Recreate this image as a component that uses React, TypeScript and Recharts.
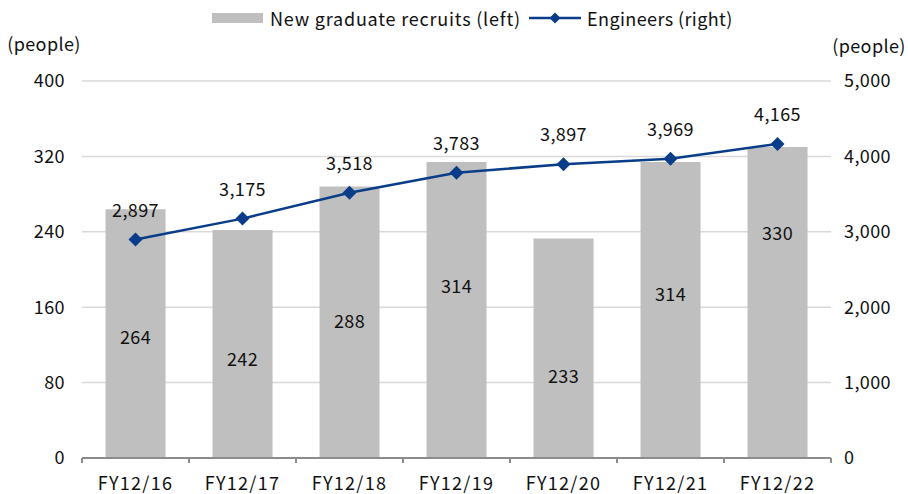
import React from 'react';
import { ComposedChart, Bar, Line, XAxis, YAxis, CartesianGrid, Legend, LabelList } from 'recharts';

const categories = ['FY12/16', 'FY12/17', 'FY12/18', 'FY12/19', 'FY12/20', 'FY12/21', 'FY12/22'];
const newGraduates = [264, 242, 288, 314, 233, 314, 330];
const engineers = [2897, 3175, 3518, 3783, 3897, 3969, 4165];
const leftTicks = [0, 80, 160, 240, 320, 400];
const rightTicks = [0, 1000, 2000, 3000, 4000, 5000];
const barLabel = 'New graduate recruits (left)';
const lineLabel = 'Engineers (right)';
const unitLabel = '(people)';

// label nudges (pixels) relative to the bar's middle, as placed in the reference
const BAR_LABEL_DY = [2, 14, -2, -25, 27, -17, -70];

const FONT = '"Noto Sans CJK JP", "Noto Sans", sans-serif';
const FS = 18;
const BAR_COLOR = '#BFBFBF';
const LINE_COLOR = '#0A3D89';
const AXIS_COLOR = '#8C8C8C';
const GRID_COLOR = '#D9D9D9';
const TEXT_COLOR = '#111111';

const data = categories.map((c, i) => ({ name: c, grads: newGraduates[i], eng: engineers[i] }));

const fmt = (v: number) => v.toLocaleString('en-US');

const Diamond = (props: any) => {
  const { cx, cy } = props;
  if (cx == null || cy == null) return null;
  const r = 7;
  return <path d={`M${cx},${cy - r}L${cx + r},${cy}L${cx},${cy + r}L${cx - r},${cy}Z`} fill={LINE_COLOR} />;
};

const XTick = (props: any) => {
  const { x, y, payload, index } = props;
  const half = payload && payload.offset ? payload.offset : 53.5;
  return (
    <g>
      <line x1={x - half} x2={x - half} y1={y} y2={y + 5} stroke={AXIS_COLOR} strokeWidth={2} />
      {index === categories.length - 1 && (
        <line x1={x + half} x2={x + half} y1={y} y2={y + 5} stroke={AXIS_COLOR} strokeWidth={2} />
      )}
      <text x={x} y={y + 24} textAnchor="middle" dominantBaseline="central" fontFamily={FONT} fontSize={FS} letterSpacing={1.3} fill={TEXT_COLOR}>
        {payload.value}
      </text>
    </g>
  );
};

const BarValueLabel = (props: any) => {
  const { x, y, width, height, value, index } = props;
  const dy = BAR_LABEL_DY[index] ?? 0;
  return (
    <text x={x + width / 2} y={y + height / 2 + dy} textAnchor="middle" dominantBaseline="central" fontFamily={FONT} fontSize={FS} letterSpacing={0.4} fill={TEXT_COLOR}>
      {value}
    </text>
  );
};

const LineValueLabel = (props: any) => {
  const { x, y, value } = props;
  return (
    <text x={x} y={y - 31} textAnchor="middle" dominantBaseline="central" fontFamily={FONT} fontSize={FS} letterSpacing={0.4} fill={TEXT_COLOR}>
      {fmt(value)}
    </text>
  );
};

const LegendContent = () => (
  <svg width={908} height={36} style={{ display: 'block' }}>
    <rect x={212} y={13} width={51} height={10} fill={BAR_COLOR} />
    <text x={270} y={18} dominantBaseline="central" fontFamily={FONT} fontSize={FS} letterSpacing={0.8} fill={TEXT_COLOR}>{barLabel}</text>
    <line x1={529} x2={581} y1={18} y2={18} stroke={LINE_COLOR} strokeWidth={2.5} />
    <path d="M555,12.5L560.5,18L555,23.5L549.5,18Z" fill={LINE_COLOR} />
    <text x={587} y={18} dominantBaseline="central" fontFamily={FONT} fontSize={FS} letterSpacing={0.4} fill={TEXT_COLOR}>{lineLabel}</text>
  </svg>
);

const LeftUnit = (props: any) => {
  const vb = props.viewBox || {};
  return (
    <text x={44} y={(vb.y ?? 81) - 38} textAnchor="middle" dominantBaseline="central" fontFamily={FONT} fontSize={FS} letterSpacing={0.4} fill={TEXT_COLOR}>
      {unitLabel}
    </text>
  );
};

const RightUnit = (props: any) => {
  const vb = props.viewBox || {};
  return (
    <text x={869} y={(vb.y ?? 81) - 36} textAnchor="middle" dominantBaseline="central" fontFamily={FONT} fontSize={FS} letterSpacing={0.4} fill={TEXT_COLOR}>
      {unitLabel}
    </text>
  );
};

export default function App() {
  return (
    <div style={{ position: 'absolute', left: 0, top: 0, width: 908, height: 494, background: '#fff', fontFamily: FONT }}>
      <ComposedChart width={908} height={494} data={data} margin={{ top: 45, right: 0, bottom: 0, left: 0 }} barCategoryGap="22%">
        <Legend verticalAlign="top" height={36} content={LegendContent} wrapperStyle={{ left: 0, top: 0, width: 908, height: 36 }} />
        <CartesianGrid yAxisId="left" vertical={false} stroke={GRID_COLOR} strokeWidth={1.5} />
        <XAxis
          dataKey="name"
          height={36}
          interval={0}
          tickLine={false}
          tickSize={0}
          tickMargin={0}
          axisLine={{ stroke: AXIS_COLOR, strokeWidth: 2 }}
          tick={<XTick />}
        />
        <YAxis
          yAxisId="left"
          orientation="left"
          width={82}
          domain={[0, 400]}
          ticks={leftTicks}
          tickLine={false}
          axisLine={false}
          tickSize={0}
          tickMargin={17}
          tick={{ fontFamily: FONT, fontSize: FS, fill: TEXT_COLOR, letterSpacing: 0.4 }}
          label={<LeftUnit />}
        />
        <YAxis
          yAxisId="right"
          orientation="right"
          width={77}
          domain={[0, 5000]}
          ticks={rightTicks}
          tickLine={false}
          axisLine={false}
          tickSize={0}
          tickMargin={13}
          tickFormatter={fmt}
          tick={{ fontFamily: FONT, fontSize: FS, fill: TEXT_COLOR, letterSpacing: 0.4 }}
          label={<RightUnit />}
        />
        <Bar yAxisId="left" dataKey="grads" name={barLabel} fill={BAR_COLOR} isAnimationActive={false}>
          <LabelList dataKey="grads" content={<BarValueLabel />} />
        </Bar>
        <Line
          yAxisId="right"
          dataKey="eng"
          name={lineLabel}
          stroke={LINE_COLOR}
          strokeWidth={2.5}
          dot={<Diamond />}
          activeDot={false}
          isAnimationActive={false}
        >
          <LabelList dataKey="eng" content={<LineValueLabel />} />
        </Line>
      </ComposedChart>
    </div>
  );
}
